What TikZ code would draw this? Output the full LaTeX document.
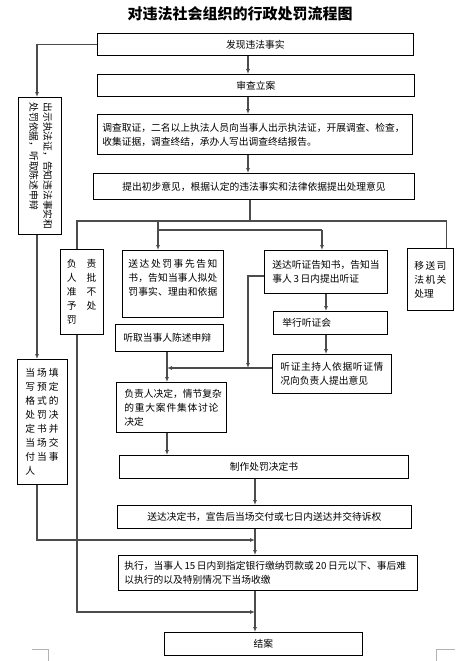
\documentclass[tikz,border=0pt]{standalone}
\usepackage{fontspec}
\setmainfont{Noto Sans CJK SC}
\usepackage{tikz}
\usetikzlibrary{arrows.meta,positioning}

\newcommand\jl[2]{\makebox[#1][s]{\jlx#2\relax}}
\def\jlx#1{#1\jly}
\def\jly#1{\ifx#1\relax\else\hfil#1\expandafter\jly\fi}

\tikzset{
	box/.style={draw, line width=0.8pt, anchor=north west, inner sep=0pt, font=\fontsize{9.75}{14}\selectfont},
	lnk/.style={draw=black!70, line width=1.2pt},
	arr/.style={lnk, -{Latex[length=5pt,width=4pt]}},
}

\begin{document}
\begin{tikzpicture}[x=1pt,y=-1pt]
	\path[fill=white,use as bounding box] (0,0) rectangle (472,661);
	\node[font=\fontsize{15}{18}\selectfont\bfseries] (T) at (240,14) {对违法社会组织的行政处罚流程图};
	\node[box,minimum width=316pt,minimum height=22pt] (A) at (97,33) {发现违法事实};
	\node[box,minimum width=317pt,minimum height=22pt] (B) at (97,74) {审查立案};
	\node[box,minimum width=315pt,minimum height=40pt,text width=305pt,align=left] (C) at (97,114) {调查取证，二名以上执法人员向当事人出示执法证，开展调查、检查，\\收集证据，调查终结，承办人写出调查终结报告。};
	\node[box,minimum width=321pt,minimum height=26pt] (D) at (93,173) {\jl{263pt}{提出初步意见，根据认定的违法事实和法律依据提出处理意见}};
	\node[box,minimum width=43pt,minimum height=137pt] (E) at (18,97) {\rotatebox{-90}{\begin{tabular}{@{}l@{}}出示执法证，告知违法事实和\\处罚依据，听取陈述申辩\end{tabular}}};
	\node[box,minimum width=43pt,minimum height=85pt,text width=30pt,align=left] (F) at (60,249) {负\hspace{10pt}责\\人\hspace{10pt}批\\准\hspace{10pt}不\\予\hspace{10pt}处\\罚};
	\node[box,minimum width=101pt,minimum height=67pt,text width=89pt,align=left] (G) at (122,250) {\jl{89pt}{送达处罚事先告知}\\\jl{89pt}{书，告知当事人拟处}\\\jl{89pt}{罚事实、理由和依据}\\\mbox{}};
	\node[box,minimum width=123pt,minimum height=43pt,text width=107pt,align=left] (H) at (264,250) {送达听证告知书，告知当\\事人\,3\,日内提出听证};
	\node[box,minimum width=46pt,minimum height=62pt,text width=32pt,align=left] (I) at (407,248) {\jl{32pt}{移送司}\\\jl{32pt}{法机关}\\处理};
	\node[box,minimum width=114pt,minimum height=23pt,text width=96pt,align=left] (J) at (273,311) {举行听证会};
	\node[box,minimum width=108pt,minimum height=27pt,text width=92pt,align=left] (K) at (115,324) {听取当事人陈述申辩};
	\node[box,minimum width=119pt,minimum height=39pt,text width=103pt,align=left] (L) at (272,354) {\jl{103pt}{听证主持人依据听证情}\\况向负责人提出意见};
	\node[box,minimum width=110pt,minimum height=50pt,text width=94pt,align=left] (M) at (116,382) {\jl{94pt}{负责人决定，情节复杂}\\\jl{94pt}{的重大案件集体讨论}\\决定};
	\node[box,minimum width=50pt,minimum height=125pt,text width=34pt,align=left] (N) at (17,359) {当\hspace{2pt}场\hspace{2pt}填\\写\hspace{2pt}预\hspace{2pt}定\\格\hspace{2pt}式\hspace{2pt}的\\处\hspace{2pt}罚\hspace{2pt}决\\定\hspace{2pt}书\hspace{2pt}并\\当\hspace{2pt}场\hspace{2pt}交\\付\hspace{2pt}当\hspace{2pt}事\\人};
	\node[box,minimum width=289pt,minimum height=23pt] (O) at (119,455) {制作处罚决定书};
	\node[box,minimum width=294pt,minimum height=23pt] (P) at (117,505) {送达决定书，宣告后当场交付或七日内送达并交待诉权};
	\node[box,minimum width=299pt,minimum height=35pt,text width=287pt,align=left] (Q) at (118,555) {\mbox{执行，当事人\,15\,日内到指定银行缴纳罚款或\,20\,日元以下、事后难}\\以执行的以及特别情况下当场收缴};
	\node[box,minimum width=198pt,minimum height=23pt] (R) at (164,632) {结案};
	\coordinate (spA) at (248,0);
	\coordinate (spB) at (255,0);
	\coordinate (lft) at (37,0);
	\coordinate (fx) at (77,0);
	\coordinate (hx) at (326,0);
	\coordinate (mx) at (167,0);
	\coordinate (br) at (250,221);
	\coordinate (k1) at (158,230);
	\coordinate (k2) at (322,230);
	\coordinate (hv) at (248,276);
	\coordinate (vx) at (248,368);
	\coordinate (hy) at (167,368);
	\coordinate (j1) at (255,540);
	\coordinate (j2) at (255,612);
	\draw[arr] (A.south -| spA) -- (B.north -| spA);
	\draw[arr] (B.south -| spA) -- (C.north -| spA);
	\draw[arr] (C.south -| spA) -- (D.north -| spA);
	\draw[lnk] (D.south -| br) -- (br);
	\draw[lnk] (F.north -| fx) |- (br) -| ([xshift=16pt]I.north);
	\draw[lnk] (br -| k1) -- (k1) -- (k2);
	\draw[arr] (k1) -- (G.north -| k1);
	\draw[arr] (k2) -- (H.north -| k2);
	\draw[arr] (H.south -| hx) -- (J.north -| hx);
	\draw[arr] (J.south -| hx) -- (L.north -| hx);
	\draw[arr] (H.west |- hv) -- (hv) -- (vx);
	\draw[arr] (L.west |- hy) -- (hy);
	\draw[arr] (K.south -| mx) -- (M.north -| mx);
	\draw[arr] (M.south -| mx) -- (O.north -| mx);
	\draw[arr] (O.south -| spB) -- (P.north -| spB);
	\draw[arr] (P.south -| spB) -- (Q.north -| spB);
	\draw[arr] (Q.south -| spB) -- (R.north -| spB);
	\draw[arr] (A.west) -| (E.north -| lft);
	\draw[arr] (E.south -| lft) -- (N.north -| lft);
	\draw[arr] (N.south -| lft) |- (j1);
	\draw[arr] (F.south -| fx) |- (j2);
	\draw[gray!60,line width=0.6pt] (32,649) -- (48,649) -- (48,661);
	\draw[gray!60,line width=0.6pt] (455,649) -- (436,649) -- (436,661);
\end{tikzpicture}
\end{document}
